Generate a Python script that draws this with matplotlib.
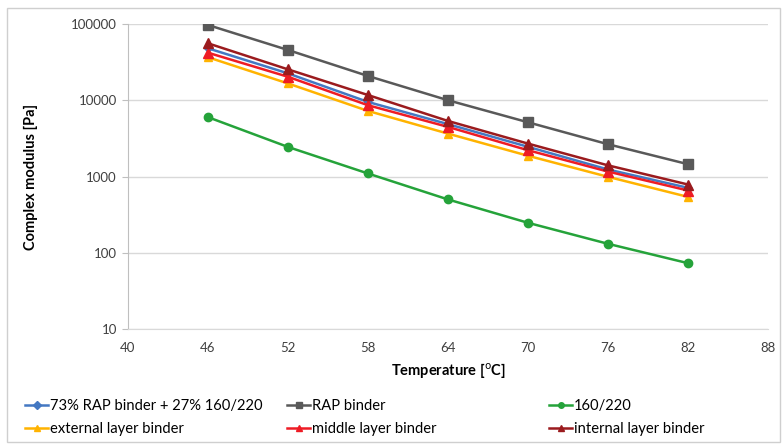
import matplotlib
matplotlib.use("Agg")
import matplotlib.pyplot as plt
from matplotlib.patches import Rectangle
from matplotlib.ticker import FixedLocator, FixedFormatter, NullLocator

plt.rcParams['font.family'] = ['Lato', 'DejaVu Sans']

temps = [46, 52, 58, 64, 70, 76, 82]
mix73 = [48000, 22500, 9500, 4860, 2450, 1235, 710]
rap = [97000, 45600, 20800, 10000, 5140, 2650, 1450]
soft = [6000, 2440, 1095, 500, 247, 131, 73]
external = [36600, 16600, 7240, 3650, 1870, 990, 540]
middle = [42000, 20300, 8600, 4470, 2210, 1160, 655]
internal = [55800, 25400, 11700, 5350, 2700, 1400, 785]

xticks = [40, 46, 52, 58, 64, 70, 76, 82, 88]
yticks = [10, 100, 1000, 10000, 100000]
ytick_labels = ["10", "100", "1000", "10000", "100000"]

W, H = 783, 444
fig = plt.figure(figsize=(W / 100, H / 100), dpi=100)
ax = fig.add_axes([128 / W, 1 - 329 / H, (768 - 128) / W, (329 - 24) / H])

series = [
    ("73% RAP binder + 27% 160/220", mix73, "#4478C2", "D", 4.5),
    ("external layer binder", external, "#FFB300", "^", 5.5),
    ("RAP binder", rap, "#595959", "s", 6.5),
    ("middle layer binder", middle, "#EE1C25", "^", 7),
    ("160/220", soft, "#25A33A", "o", 6),
    ("internal layer binder", internal, "#9B1B1E", "^", 7),
]
handles = []
for label, vals, col, mk, ms in series:
    ln, = ax.plot(temps, vals, color=col, lw=1.8, marker=mk, ms=ms, label=label,
                  markeredgecolor=col)
    handles.append(ln)

ax.set_yscale("log")
ax.set_xlim(40, 88)
ax.set_ylim(10, 100000)
ax.yaxis.set_major_locator(FixedLocator(yticks))
ax.yaxis.set_major_formatter(FixedFormatter(ytick_labels))
ax.yaxis.set_minor_locator(NullLocator())
ax.set_xticks(xticks)
ax.grid(axis="y", color="#d9d9d9", lw=1)
ax.set_axisbelow(True)
for s in ["top", "right"]:
    ax.spines[s].set_visible(False)
ax.spines["left"].set_color("#bfbfbf")
ax.spines["bottom"].set_color("#d9d9d9")
ax.tick_params(axis="y", length=4, color="#bfbfbf", labelsize=9.5, labelcolor="#404040", pad=4)
ax.tick_params(axis="x", length=0, labelsize=9.5, labelcolor="#404040", pad=9)

ax.set_xlabel("Temperature [$^{\\mathrm{o}}$C]", fontsize=10.5, fontweight="bold", labelpad=6)
ax.set_ylabel("Complex modulus [Pa]", fontsize=10.5, fontweight="bold", labelpad=24)

col_x = [19, 281, 543]
for i, x0 in enumerate(col_x):
    hs = handles[2 * i:2 * i + 2]
    leg = fig.legend(handles=hs, labels=[h.get_label() for h in hs],
                     loc="upper left", bbox_to_anchor=(x0 / W, 1 - 393 / H), ncol=1,
                     frameon=False, fontsize=10.6, handlelength=1.6, handletextpad=0.1,
                     labelspacing=0.6, borderaxespad=0)
    for h in leg.legend_handles:
        h.set_markersize(4)

fig.patches.append(Rectangle((7 / W, 0.005), (780 - 7) / W, 1 - 8 / H - 0.005,
                             transform=fig.transFigure, fill=False,
                             edgecolor="#cfcfcf", lw=1))

fig.savefig("out.png", dpi=100)
